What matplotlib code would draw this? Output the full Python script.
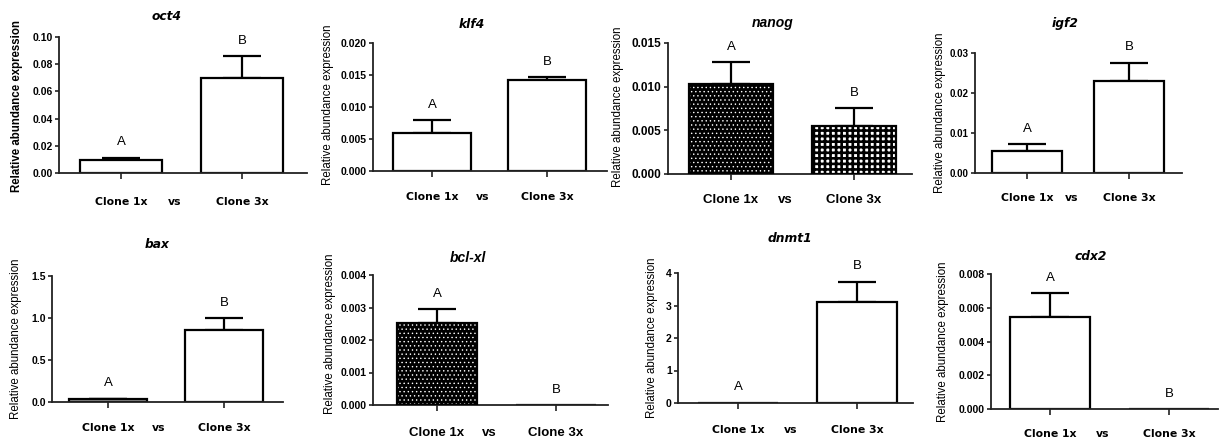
import matplotlib
matplotlib.use("Agg")
import matplotlib.pyplot as plt

# ---------------- data ----------------
genes = ["oct4", "klf4", "nanog", "igf2", "bax", "bcl-xl", "dnmt1", "cdx2"]
groups = ["Clone 1x", "Clone 3x"]
letters = ["A", "B"]

oct4_mean = [0.0098, 0.0702]
oct4_err = [0.0014, 0.0157]
klf4_mean = [0.0060, 0.0142]
klf4_err = [0.0019, 0.0005]
nanog_mean = [0.0103, 0.0055]
nanog_err = [0.0025, 0.0020]
igf2_mean = [0.0054, 0.0230]
igf2_err = [0.0019, 0.0046]
bax_mean = [0.036, 0.861]
bax_err = [0.004, 0.139]
bclxl_mean = [0.00251, 0.0]
bclxl_err = [0.00043, 0.0]
dnmt1_mean = [0.015, 3.10]
dnmt1_err = [0.0, 0.63]
cdx2_mean = [0.00546, 0.0]
cdx2_err = [0.00141, 0.0]

oct4_ticks = ["0.00", "0.02", "0.04", "0.06", "0.08", "0.10"]
klf4_ticks = ["0.000", "0.005", "0.010", "0.015", "0.020"]
nanog_ticks = ["0.000", "0.005", "0.010", "0.015"]
igf2_ticks = ["0.00", "0.01", "0.02", "0.03"]
bax_ticks = ["0.0", "0.5", "1.0", "1.5"]
bclxl_ticks = ["0.000", "0.001", "0.002", "0.003", "0.004"]
dnmt1_ticks = ["0", "1", "2", "3", "4"]
cdx2_ticks = ["0.000", "0.002", "0.004", "0.006", "0.008"]

means = [oct4_mean, klf4_mean, nanog_mean, igf2_mean, bax_mean, bclxl_mean, dnmt1_mean, cdx2_mean]
errs = [oct4_err, klf4_err, nanog_err, igf2_err, bax_err, bclxl_err, dnmt1_err, cdx2_err]
ticklists = [oct4_ticks, klf4_ticks, nanog_ticks, igf2_ticks, bax_ticks, bclxl_ticks, dnmt1_ticks, cdx2_ticks]

# ---------------- layout (pixels) ----------------
W, H = 1220, 442
# axes box: left, right, top, bottom (pixel), tick1 px, tick2 px
boxes = [
    (59, 307, 37, 173, 121, 242),
    (373, 607, 43, 171, 432, 547),
    (668, 912, 43, 174, 731, 854),
    (975, 1182, 53, 173, 1027, 1129),
    (52, 283, 276, 402, 108, 224),
    (373, 608, 275, 405, 437, 556),
    (678, 913, 273, 403, 738, 857),
    (991, 1218, 274, 409, 1050, 1169),
]
titles_px = [(167, 17), (472, 24), (773, 23), (1065, 23), (157, 245), (468, 258), (790, 239), (1091, 256)]
ylab_px = [(17, 106), (328, 105), (618, 107), (940, 113), (16, 339), (330, 334), (652, 338), (943, 342)]
xlab_y = [202, 197, 200, 198, 428, 433, 430, 434]
styles = [
    ("open", "open"), ("open", "open"), ("dark", "checker"), ("open", "open"),
    ("open", "open"), ("dark", "open"), ("open", "open"), ("open", "open"),
]
big = [False, False, True, False, False, True, False, False]
tick_fs = [7.5, 7.5, 8.5, 7.0, 7.5, 7.5, 7.5, 7.5]

AX = "#222222"
fig = plt.figure(figsize=(W / 100, H / 100), dpi=100)

for i, g in enumerate(genes):
    l, r, t, b, t1, t2 = boxes[i]
    ax = fig.add_axes([l / W, 1 - b / H, (r - l) / W, (b - t) / H])
    ppu = t2 - t1
    ax.set_xlim((l - t1) / ppu, (r - t1) / ppu)
    labels = ticklists[i]
    yt = [float(s) for s in labels]
    ax.set_ylim(0, yt[-1])
    ax.set_yticks(yt)
    ax.set_yticklabels(labels)
    for sp in ["top", "right"]:
        ax.spines[sp].set_visible(False)
    for sp in ["left", "bottom"]:
        ax.spines[sp].set_color(AX)
        ax.spines[sp].set_linewidth(1.3)
    ax.patch.set_alpha(0)

    x = [0, 1]
    m = means[i]
    e = errs[i]
    width = 0.68
    for j in range(2):
        st = styles[i][j]
        if st == "open":
            fc = "#999999" if (m[j] < 0.06 * yt[-1] and m[j] > 0.02 * yt[-1]) else "white"
            ax.bar(x[j], m[j], width, color=fc, edgecolor="black", linewidth=1.6, zorder=2)
        elif st == "dark":
            with plt.rc_context({"hatch.linewidth": 0.5}):
                ax.bar(x[j], m[j], width, color="black", edgecolor="white", hatch="....", linewidth=0, zorder=2)
            ax.bar(x[j], m[j], width, fill=False, edgecolor="black", linewidth=1.6, zorder=3)
        else:
            with plt.rc_context({"hatch.linewidth": 1.9}):
                ax.bar(x[j], m[j], width, color="white", edgecolor="black", hatch="+++", linewidth=0, zorder=2)
            ax.bar(x[j], m[j], width, fill=False, edgecolor="black", linewidth=1.6, zorder=3)
        if e[j] > 0:
            ax.errorbar(x[j], m[j], yerr=[[0], [e[j]]], fmt="none", ecolor="black",
                        elinewidth=1.6, capsize=14, capthick=1.6, zorder=1)
        ax.annotate(letters[j], (x[j], m[j] + e[j]), xytext=(0, 11), textcoords="offset points",
                    ha="center", va="center", fontsize=9.5, family="Liberation Sans",
                    annotation_clip=False)

    # ticks
    ax.tick_params(axis="y", direction="out", length=3, width=1.2, color=AX, pad=1.5)
    for lab in ax.get_yticklabels():
        lab.set_fontfamily("Liberation Sans")
        lab.set_fontweight("bold")
        lab.set_fontsize(tick_fs[i])
    ax.set_xticks(x)
    ax.set_xticklabels([])
    ax.tick_params(axis="x", direction="out", length=4, width=1.2, color=AX)

    # x group labels
    if big[i]:
        xfam, xfs = "Liberation Sans", 9.5
    else:
        xfam, xfs = "DejaVu Sans", 7.8
    yfrac = 1 - xlab_y[i] / H
    for j in range(2):
        fig.text((t1 + j * ppu) / W, yfrac, groups[j], ha="center", va="center",
                 fontsize=xfs, fontweight="bold", family=xfam)
    fig.text((t1 + 0.44 * ppu) / W, yfrac, "vs", ha="center", va="center",
             fontsize=xfs, fontweight="bold", family=xfam)

    # title
    tx, ty = titles_px[i]
    if big[i]:
        fig.text(tx / W, 1 - ty / H, g, ha="center", va="center", fontsize=10,
                 fontweight="bold", fontstyle="italic", family="Liberation Sans")
    else:
        fig.text(tx / W, 1 - ty / H, g, ha="center", va="center", fontsize=8.8,
                 fontweight="bold", fontstyle="italic", family="DejaVu Sans")

    # y label
    lx, ly = ylab_px[i]
    fig.text(lx / W, 1 - ly / H, "Relative abundance expression", rotation=90,
             ha="center", va="center", fontsize=8.3, family="Liberation Sans",
             fontweight="bold" if i == 0 else "normal")

fig.savefig("out.png", dpi=100, facecolor="white")
